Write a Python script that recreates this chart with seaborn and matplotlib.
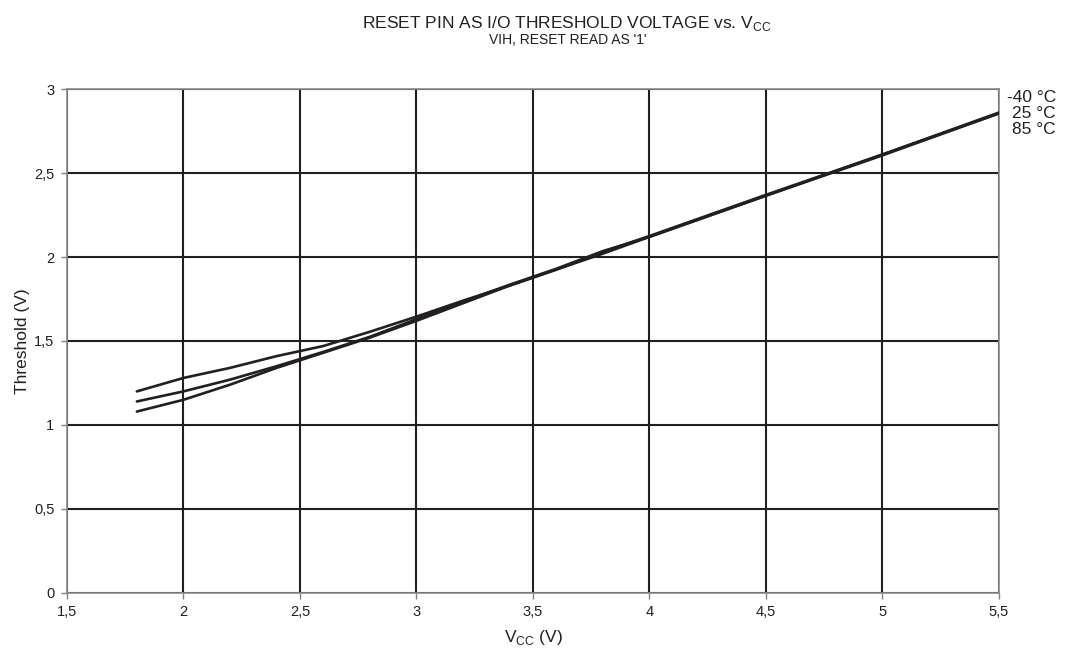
import matplotlib
matplotlib.use('Agg')
import matplotlib.pyplot as plt
import matplotlib.transforms as mtransforms
import numpy as np
import pandas as pd
import seaborn as sns

# supply voltage points (V)
vcc = [1.8, 2.0, 2.2, 2.4, 2.6, 2.8, 3.0, 3.2, 3.4, 3.6, 3.8, 4.0, 4.5, 5.0, 5.5]

# threshold (V) per temperature
thr_m40 = [1.20, 1.28, 1.34, 1.41, 1.47, 1.555, 1.645, 1.74, 1.83, 1.925, 2.03, 2.125, 2.37, 2.61, 2.86]
thr_25 = [1.14, 1.20, 1.27, 1.35, 1.435, 1.525, 1.63, 1.735, 1.835, 1.93, 2.035, 2.12, 2.365, 2.61, 2.855]
thr_85 = [1.08, 1.15, 1.24, 1.34, 1.43, 1.52, 1.62, 1.725, 1.83, 1.925, 2.02, 2.12, 2.365, 2.605, 2.855]

temps = ['-40 °C', '25 °C', '85 °C']
label_y = [2.95, 2.857, 2.756]

df = pd.DataFrame({
    'vcc': vcc * 3,
    'thr': thr_m40 + thr_25 + thr_85,
    'temp': [t for t in temps for _ in vcc],
})

sns.set_theme(style='white')
plt.rcParams['font.family'] = ['Liberation Sans', 'DejaVu Sans']

ink = '#231f20'
fig = plt.figure(figsize=(10.73, 6.54), dpi=100)
ax = fig.add_axes([0.0624, 0.0933, 0.8686, 0.7706])

sns.lineplot(data=df, x='vcc', y='thr', hue='temp', palette=[ink] * 3,
             linewidth=1.9, legend=False, ax=ax, zorder=3)

ax.set_xlim(1.5, 5.5)
ax.set_ylim(0, 3)
xt = np.arange(1.5, 5.51, 0.5)
yt = np.arange(0, 3.01, 0.5)
ax.set_xticks(xt)
ax.set_yticks(yt)
fmt = lambda v: ('%g' % v).replace('.', ',')
ax.set_xticklabels([fmt(v) for v in xt], fontsize=10.5)
ax.set_yticklabels([fmt(v) for v in yt], fontsize=10.5)
ax.tick_params(axis='both', direction='out', length=4, width=1, color='#808080',
               labelcolor=ink, pad=5, bottom=True, left=True)
ax.grid(True, color=ink, linewidth=1.5)
for s in ax.spines.values():
    s.set_color('#8a8a8a')
    s.set_linewidth(1.2)

ax.set_xlabel(r'V$_{\mathregular{CC}}$ (V)', fontsize=12.5, color=ink, labelpad=6)
ax.set_ylabel('Threshold (V)', fontsize=12.5, color=ink)
ax.yaxis.set_label_coords(-0.040, 0.5)

fig.text(0.528, 0.964, r'RESET PIN AS I/O THRESHOLD VOLTAGE vs. V$_{\mathregular{CC}}$',
         ha='center', va='center', fontsize=12.5, color=ink)
fig.text(0.529, 0.939, "VIH, RESET READ AS '1'", ha='center', va='center',
         fontsize=10, color=ink)

trans = mtransforms.blended_transform_factory(ax.transAxes, ax.transData)
for t, y in zip(temps, label_y):
    ax.text(1.061, y, t, transform=trans, ha='right', va='center', fontsize=12.5, color=ink)

fig.savefig('out.png', dpi=100)
